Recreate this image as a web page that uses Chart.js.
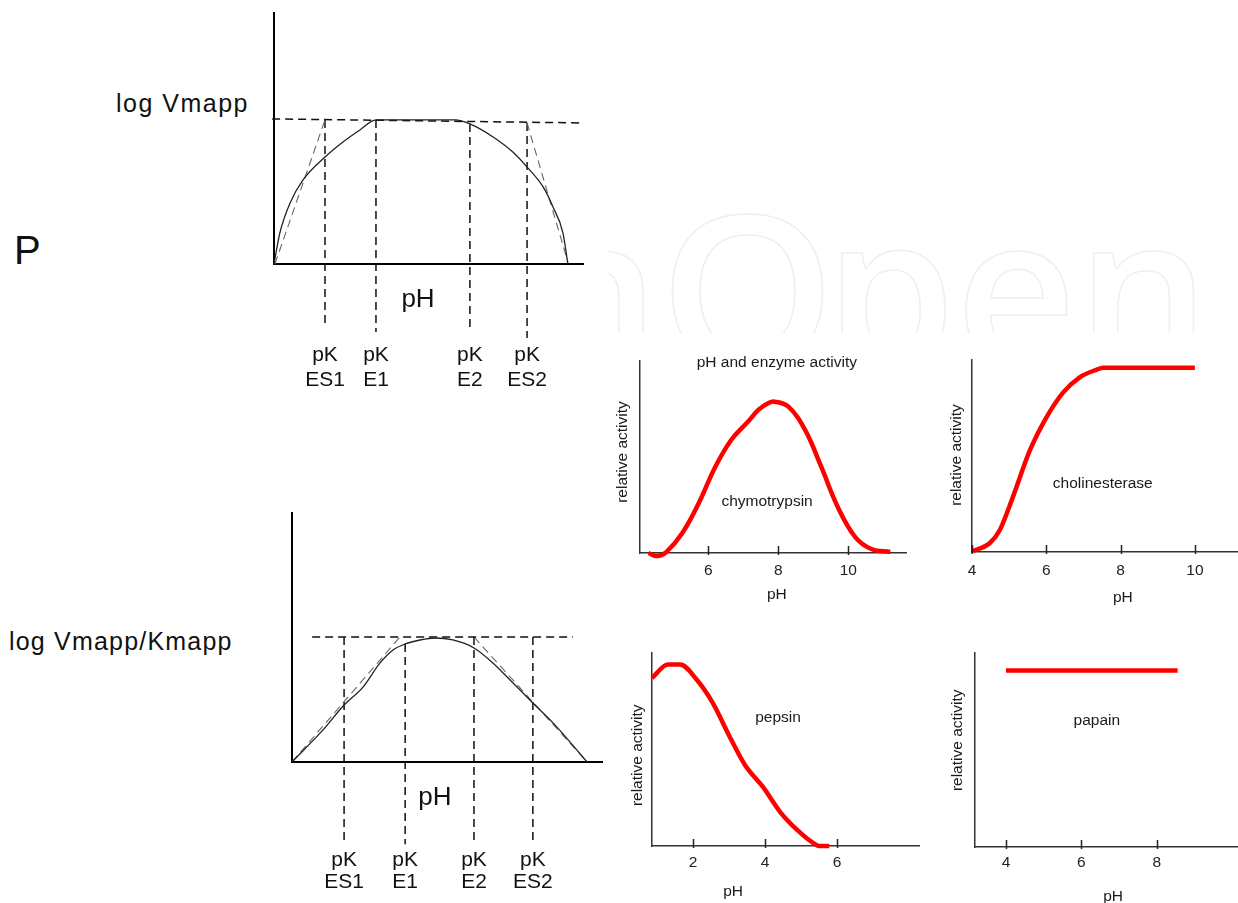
<!DOCTYPE html>
<html>
<head>
<meta charset="utf-8">
<script src="https://cdn.jsdelivr.net/npm/chart.js@4/dist/chart.umd.min.js"></script>
<style>
body { margin: 0; background: #fff; width: 1238px; height: 903px; position: relative; overflow: hidden; font-family: "Liberation Sans", Arial, sans-serif; }
canvas { position: absolute; }
.lbl { position: absolute; color: #111; white-space: nowrap; }
#wm { position: absolute; left: 608px; top: 190px; width: 630px; height: 143px; overflow: hidden; }
#wm span { position: absolute; left: -82px; top: -9px; font: 600 210px/210px "Open Sans"; color: transparent; -webkit-text-stroke: 1.5px #efefef; white-space: nowrap; }
#wm b { display: inline-block; font-weight: 600; transform-origin: left center; transform: scaleX(1.07); }
</style>
</head>
<body>
<div id="wm"><span>n<b>O</b>pen</span></div>
<div class="lbl" style="left:14px;top:230px;font-size:40px;line-height:40px;">P</div>
<div class="lbl" style="left:116px;top:90px;font-size:25px;line-height:27px;letter-spacing:1.5px;">log Vmapp</div>
<div class="lbl" style="left:9px;top:628px;font-size:25px;line-height:27px;letter-spacing:1.2px;">log Vmapp/Kmapp</div>

<canvas id="vm" style="left:264px;top:0px"></canvas>
<canvas id="vk" style="left:282px;top:500px"></canvas>
<canvas id="chymo" style="left:600px;top:340px"></canvas>
<canvas id="cholin" style="left:930px;top:340px"></canvas>
<canvas id="pepsin" style="left:600px;top:640px"></canvas>
<canvas id="papain" style="left:930px;top:640px"></canvas>

<script>
// ---- schematic 1: log Vmapp vs pH (arbitrary units) ----
const vmCurveX = [0, 0.19, 0.52, 0.94, 1.65, 2.23, 2.78, 3.3, 5.86, 6.34, 7.09, 7.73, 8.19, 8.71, 9.03, 9.35, 9.51];
const vmCurveY = [0, 1.24, 2.43, 3.35, 4.26, 4.86, 5.34, 5.74, 5.74, 5.58, 5.06, 4.46, 3.86, 3.07, 2.27, 1.24, 0];
const vmRefX = [-0.06, 10];
const vmRefY = [5.78, 5.62];
const vmTanLeftX = [0.03, 1.65];
const vmTanLeftY = [0, 5.74];
const vmTanRightX = [8.19, 9.51];
const vmTanRightY = [5.62, 0.08];
const vmPK = [1.65, 3.3, 6.34, 8.19];
const vmPKTop = [5.74, 5.74, 5.58, 5.62];
const vmPKBottom = [-2.51, -2.71, -2.55, -2.95];

// ---- schematic 2: log Vmapp/Kmapp vs pH ----
const vkCurveX = [0, 1.0, 1.68, 2.29, 2.84, 3.26, 3.65, 4.13, 4.61, 5.19, 5.87, 6.48, 7.13, 7.77, 8.42, 8.97, 9.52];
const vkCurveY = [0, 1.29, 2.29, 3.01, 3.98, 4.5, 4.74, 4.9, 4.98, 4.9, 4.58, 3.98, 3.17, 2.37, 1.57, 0.8, 0];
const vkRefX = [0.65, 9.06];
const vkRefY = [5.02, 5.02];
const vkTanLeftX = [0, 3.48];
const vkTanLeftY = [0, 5.02];
const vkTanRightX = [5.87, 9.52];
const vkTanRightY = [5.02, 0];
const vkPK = [1.68, 3.65, 5.87, 7.77];
const vkPKTop = [5.02, 4.74, 5.02, 5.02];
const vkPKBottom = [-3.25, -3.3, -3.25, -3.13];

const pkNames = ['ES1', 'E1', 'E2', 'ES2'];

// ---- enzyme activity panels ----
const chymoPH  = [4.29, 4.54, 4.8, 5.26, 5.73, 6.2, 6.66, 7.14, 7.43, 7.71, 7.9, 8.29, 8.77, 9.23, 9.7, 10.2, 10.66, 11.2];
const chymoAct = [0, -0.016, 0.005, 0.104, 0.26, 0.448, 0.59, 0.685, 0.745, 0.78, 0.788, 0.762, 0.64, 0.448, 0.24, 0.083, 0.021, 0.005];
const chymoTicks = [6, 8, 10];

const cholinPH  = [4.03, 4.48, 4.75, 5.1, 5.56, 6.0, 6.45, 6.9, 7.36, 7.53, 10];
const cholinAct = [0.005, 0.047, 0.115, 0.286, 0.53, 0.70, 0.83, 0.91, 0.95, 0.96, 0.96];
const cholinTicks = [4, 6, 8, 10];

const pepsinPH  = [0.86, 1.3, 1.64, 2.11, 2.55, 3.02, 3.44, 3.94, 4.42, 4.89, 5.33, 5.5, 5.78];
const pepsinAct = [0.87, 0.94, 0.94, 0.86, 0.74, 0.565, 0.42, 0.306, 0.176, 0.083, 0.016, 0, 0];
const pepsinTicks = [2, 4, 6];

const papainPH  = [4, 8.55];
const papainAct = [0.91, 0.91];
const papainTicks = [4, 6, 8];

const FONT = '"Liberation Sans", Arial, sans-serif';

function pts(xs, ys) {
    return xs.map((v, i) => ({x: v, y: ys[i]}));
}

// text placed through the chart scales
const notesPlugin = {
    id: 'notes',
    afterDatasetsDraw(chart, args, opts) {
        const ctx = chart.ctx;
        const x = chart.scales.x, y = chart.scales.y;
        (opts.items || []).forEach(n => {
            ctx.save();
            ctx.font = n.font || opts.font;
            ctx.fillStyle = opts.color || '#111';
            ctx.textAlign = 'center';
            ctx.textBaseline = 'middle';
            ctx.translate(x.getPixelForValue(n.x), y.getPixelForValue(n.y));
            if (n.rotate) ctx.rotate(-Math.PI / 2);
            ctx.fillText(n.text, 0, 0);
            ctx.restore();
        });
    }
};

// short tick marks pointing into the plot
const tickMarks = {
    id: 'tickMarks',
    afterDraw(chart, args, opts) {
        if (!opts.on) return;
        const ctx = chart.ctx, x = chart.scales.x, b = chart.chartArea.bottom;
        ctx.save();
        ctx.strokeStyle = '#222';
        ctx.lineWidth = 1.5;
        x.ticks.forEach(t => {
            const px = Math.round(x.getPixelForValue(t.value)) + 0.5;
            ctx.beginPath();
            ctx.moveTo(px, b - 7);
            ctx.lineTo(px, b + 2);
            ctx.stroke();
        });
        ctx.restore();
    }
};

function dashed(xs, ys, color, width) {
    return {
        data: pts(xs, ys), showLine: true, pointRadius: 0,
        borderColor: color || '#111', borderWidth: width || 1.5,
        borderDash: [8, 5], clip: false
    };
}

function schematic(id, w, h, pad, curveX, curveY, refX, refY, tl, tr, pk, pkTop, pkBottom, notes) {
    const el = document.getElementById(id);
    el.width = w; el.height = h;
    const sets = [
        {data: pts(curveX, curveY), showLine: true, pointRadius: 0, borderColor: '#222', borderWidth: 1.3,
         cubicInterpolationMode: 'monotone', clip: false},
        dashed(refX, refY),
        dashed(tl[0], tl[1], '#666', 1.1),
        dashed(tr[0], tr[1], '#666', 1.1)
    ];
    pk.forEach((v, i) => sets.push(dashed([v, v], [pkTop[i], pkBottom[i]])));
    return new Chart(el, {
        type: 'scatter',
        data: {datasets: sets},
        options: {
            responsive: false, animation: false,
            layout: {padding: pad},
            plugins: {legend: {display: false}, tooltip: {enabled: false},
                notes: {items: notes, font: '21px ' + FONT}},
            scales: {
                x: {type: 'linear', min: 0, max: 10, grid: {display: false, drawTicks: false},
                    ticks: {display: false}, border: {color: '#000', width: 2},
                    afterFit: s => { s.height = 0; }},
                y: {type: 'linear', min: 0, max: 10, grid: {display: false, drawTicks: false},
                    ticks: {display: false}, border: {color: '#000', width: 2},
                    afterFit: s => { s.width = 0; }}
            }
        },
        plugins: [notesPlugin]
    });
}

function pkNotes(pk, y1, y2, phX, phY) {
    const items = [{text: 'pH', x: phX, y: phY, font: '26px ' + FONT}];
    pk.forEach((v, i) => {
        items.push({text: 'pK', x: v, y: y1});
        items.push({text: pkNames[i], x: v, y: y2});
    });
    return items;
}

schematic('vm', 340, 400, {left: 10, top: 13, right: 21, bottom: 136},
    vmCurveX, vmCurveY, vmRefX, vmRefY, [vmTanLeftX, vmTanLeftY], [vmTanRightX, vmTanRightY],
    vmPK, vmPKTop, vmPKBottom, pkNotes(vmPK, -3.63, -4.62, 4.66, -1.43));

schematic('vk', 340, 403, {left: 10, top: 13, right: 20, bottom: 141},
    vkCurveX, vkCurveY, vkRefX, vkRefY, [vkTanLeftX, vkTanLeftY], [vkTanRightX, vkTanRightY],
    vkPK, vkPKTop, vkPKBottom, pkNotes(vkPK, -3.94, -4.82, 4.61, -1.45));

function panel(id, w, h, area, xr, ticks, xs, ys, notes, smooth) {
    const el = document.getElementById(id);
    el.width = w; el.height = h;
    return new Chart(el, {
        type: 'scatter',
        data: {datasets: [{
            data: pts(xs, ys), showLine: true, pointRadius: 0,
            borderColor: '#ff0000', borderWidth: 4.5,
            tension: 0.4, cubicInterpolationMode: smooth ? 'default' : 'monotone', clip: false
        }]},
        options: {
            responsive: false, animation: false,
            layout: {padding: {left: 0, top: area.top, right: area.right, bottom: 0}},
            plugins: {legend: {display: false}, tooltip: {enabled: false},
                notes: {items: notes, font: '15.5px ' + FONT, color: '#1a1a1a'},
                tickMarks: {on: true}},
            scales: {
                x: {type: 'linear', min: xr[0], max: xr[1],
                    grid: {display: false, drawTicks: false},
                    border: {color: '#333', width: 1.5},
                    afterBuildTicks: s => { s.ticks = ticks.map(v => ({value: v})); },
                    afterFit: s => { s.height = area.xh; },
                    ticks: {padding: area.tp, color: '#222', font: {size: 15.5, family: FONT}}},
                y: {type: 'linear', min: 0, max: 1,
                    grid: {display: false, drawTicks: false},
                    border: {color: '#333', width: 1.5},
                    ticks: {display: false},
                    afterFit: s => { s.width = area.yw; }}
            }
        },
        plugins: [notesPlugin, tickMarks]
    });
}

panel('chymo', 320, 280, {top: 21, right: 14, xh: 67, yw: 40, tp: 8.5},
    [4.05, 11.65], chymoTicks, chymoPH, chymoAct, [
        {text: 'pH and enzyme activity', x: 7.96, y: 0.99},
        {text: 'chymotrypsin', x: 7.68, y: 0.266},
        {text: 'pH', x: 7.96, y: -0.219},
        {text: 'relative activity', x: 3.56, y: 0.526, rotate: true}
    ], true);

panel('cholin', 308, 280, {top: 20, right: 0, xh: 68, yw: 42, tp: 9.5},
    [4, 11.16], cholinTicks, cholinPH, cholinAct, [
        {text: 'cholinesterase', x: 7.52, y: 0.354},
        {text: 'pH', x: 8.06, y: -0.24},
        {text: 'relative activity', x: 3.60, y: 0.505, rotate: true}
    ]);

panel('pepsin', 320, 263, {top: 13, right: 0, xh: 57, yw: 52, tp: 7.5},
    [0.86, 8.3], pepsinTicks, pepsinPH, pepsinAct, [
        {text: 'pepsin', x: 4.36, y: 0.663},
        {text: 'pH', x: 3.11, y: -0.238},
        {text: 'relative activity', x: 0.47, y: 0.47, rotate: true}
    ]);

panel('papain', 308, 263, {top: 13, right: 0, xh: 56, yw: 45, tp: 6.5},
    [3.18, 10.15], papainTicks, papainPH, papainAct, [
        {text: 'papain', x: 6.41, y: 0.649},
        {text: 'pH', x: 6.84, y: -0.258},
        {text: 'relative activity', x: 2.73, y: 0.55, rotate: true}
    ]);
</script>
</body>
</html>
